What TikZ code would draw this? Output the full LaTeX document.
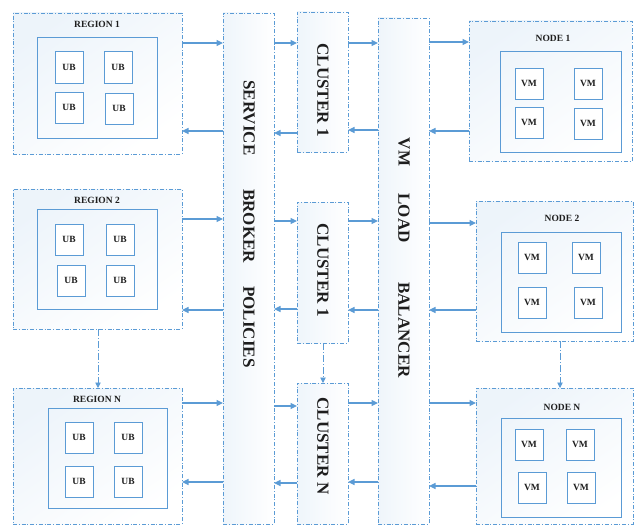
\documentclass[tikz,border=0pt]{standalone}
\usepackage{fontspec}
\setmainfont{Liberation Serif}
\usetikzlibrary{arrows.meta}
\definecolor{mybl}{RGB}{91,155,213}
\definecolor{txt}{RGB}{30,30,30}
\begin{document}
\begin{tikzpicture}[x=1pt,y=-1pt,
  outerbox/.style={draw=mybl, line width=0.9pt, dash pattern=on 4pt off 1.8pt on 1pt off 1.8pt,
     top color=mybl!11, bottom color=white, shading angle=35, anchor=north west, inner sep=0pt, outer sep=0pt},
  barbox/.style={draw=mybl, line width=0.9pt, dash pattern=on 4pt off 1.8pt on 1pt off 1.8pt,
     left color=mybl!10, right color=white, anchor=north west, inner sep=0pt, outer sep=0pt},
  innerbox/.style={draw=mybl, line width=1pt, anchor=north west, inner sep=0pt, outer sep=0pt},
  unit/.style={draw=mybl, line width=1pt, fill=white, anchor=north west, inner sep=0pt, outer sep=0pt,
     minimum width=28pt, minimum height=31pt, font=\fontsize{9.5}{10}\selectfont\bfseries, text=txt},
  ttl/.style={font=\fontsize{9.5}{10}\selectfont\bfseries, text=txt, inner sep=0pt},
  vtxt/.style={font=\fontsize{17}{18}\selectfont\bfseries, text=txt, rotate=-90, inner sep=0pt},
  arr/.style={draw=mybl, line width=1.2pt, -{Triangle[length=6.5pt,width=6pt]}},
  darr/.style={draw=mybl, line width=0.9pt, dash pattern=on 7pt off 2pt on 1pt off 2pt, -{Triangle[length=5.5pt,width=5.5pt]}}
]
\useasboundingbox (0,0) rectangle (634,527);

% bars
\node[barbox, minimum width=51pt, minimum height=511pt] (sb) at (223,13) {};
\node[barbox, minimum width=51pt, minimum height=506pt] (lb) at (378,18) {};
\node[vtxt] (sb1) at (249,118) {SERVICE};
\node[vtxt] (sb2) at (249,226) {BROKER};
\node[vtxt] (sb3) at (249,327) {POLICIES};
\node[vtxt] (lb1) at (404,152) {VM};
\node[vtxt] (lb2) at (404,218) {LOAD};
\node[vtxt] (lb3) at (404,330) {BALANCER};

% clusters
\node[barbox, minimum width=51pt, minimum height=140pt] (c1) at (297,12) {};
\node[barbox, minimum width=51pt, minimum height=141pt] (c2) at (297,202) {};
\node[barbox, minimum width=51pt, minimum height=141pt] (cn) at (297,383) {};
\node[vtxt] (c1t) at (323,90) {CLUSTER 1};
\node[vtxt] (c2t) at (323,270) {CLUSTER 1};
\node[vtxt] (cnt) at (323,446) {CLUSTER N};

% regions
\node[outerbox, minimum width=169pt, minimum height=141pt] (r1) at (13,13) {};
\node[outerbox, minimum width=169pt, minimum height=140pt] (r2) at (13,189) {};
\node[outerbox, minimum width=169pt, minimum height=136pt] (rn) at (13,388) {};
\node[innerbox, minimum width=120pt, minimum height=100pt] (r1i) at (37,38) {};
\node[innerbox, minimum width=120pt, minimum height=100pt] (r2i) at (37,209) {};
\node[innerbox, minimum width=119pt, minimum height=100pt] (rni) at (48,408) {};
\node[ttl] (r1t) at (97,24) {REGION 1};
\node[ttl] (r2t) at (97,200) {REGION 2};
\node[ttl] (rnt) at (97,399) {REGION N};

\node[unit] (u11) at (55,52) {UB};
\node[unit] (u12) at (104,52) {UB};
\node[unit] (u13) at (55,92) {UB};
\node[unit] (u14) at (105,93) {UB};
\node[unit] (u21) at (55,224) {UB};
\node[unit] (u22) at (106,224) {UB};
\node[unit] (u23) at (57,265) {UB};
\node[unit] (u24) at (106,265) {UB};
\node[unit] (u31) at (65,422) {UB};
\node[unit] (u32) at (114,422) {UB};
\node[unit] (u33) at (65,466) {UB};
\node[unit] (u34) at (114,466) {UB};

% nodes
\node[outerbox, minimum width=163pt, minimum height=140pt] (n1) at (469,21) {};
\node[outerbox, minimum width=157pt, minimum height=140pt] (n2) at (476,201) {};
\node[outerbox, minimum width=157pt, minimum height=136pt] (nn) at (476,388) {};
\node[innerbox, minimum width=121pt, minimum height=100pt] (n1i) at (500,52) {};
\node[innerbox, minimum width=120pt, minimum height=100pt] (n2i) at (501,232) {};
\node[innerbox, minimum width=120pt, minimum height=99pt] (nni) at (501,418) {};
\node[ttl] (n1t) at (553,38) {NODE 1};
\node[ttl] (n2t) at (562,218) {NODE 2};
\node[ttl] (nnt) at (562,407) {NODE N};

\node[unit] (v11) at (515,68) {VM};
\node[unit] (v12) at (574,68) {VM};
\node[unit] (v13) at (515,107) {VM};
\node[unit] (v14) at (574,108) {VM};
\node[unit] (v21) at (518,242) {VM};
\node[unit] (v22) at (572,242) {VM};
\node[unit] (v23) at (518,287) {VM};
\node[unit] (v24) at (574,287) {VM};
\node[unit] (v31) at (515,429) {VM};
\node[unit] (v32) at (566,429) {VM};
\node[unit] (v33) at (518,472) {VM};
\node[unit] (v34) at (567,472) {VM};

% arrows row 1
\draw[arr] (r1.east |- 0,43) -- (sb.west |- 0,43);
\draw[arr] (sb.west |- 0,131) -- (r1.east |- 0,131);
\draw[arr] (sb.east |- 0,43) -- (c1.west |- 0,43);
\draw[arr] (c1.west |- 0,133) -- (sb.east |- 0,133);
\draw[arr] (c1.east |- 0,43) -- (lb.west |- 0,43);
\draw[arr] (lb.west |- 0,130) -- (c1.east |- 0,130);
\draw[arr] (lb.east |- 0,42) -- (n1.west |- 0,42);
\draw[arr] (n1.west |- 0,131) -- (lb.east |- 0,131);
% row 2
\draw[arr] (r2.east |- 0,219) -- (sb.west |- 0,219);
\draw[arr] (sb.west |- 0,310) -- (r2.east |- 0,310);
\draw[arr] (sb.east |- 0,221) -- (c2.west |- 0,221);
\draw[arr] (c2.west |- 0,309) -- (sb.east |- 0,309);
\draw[arr] (c2.east |- 0,221) -- (lb.west |- 0,221);
\draw[arr] (lb.west |- 0,310) -- (c2.east |- 0,310);
\draw[arr] (lb.east |- 0,223) -- (n2.west |- 0,223);
\draw[arr] (n2.west |- 0,310) -- (lb.east |- 0,310);
% row N
\draw[arr] (rn.east |- 0,403) -- (sb.west |- 0,403);
\draw[arr] (sb.west |- 0,482) -- (rn.east |- 0,482);
\draw[arr] (sb.east |- 0,406) -- (cn.west |- 0,406);
\draw[arr] (cn.west |- 0,483) -- (sb.east |- 0,483);
\draw[arr] (cn.east |- 0,403) -- (lb.west |- 0,403);
\draw[arr] (lb.west |- 0,482) -- (cn.east |- 0,482);
\draw[arr] (lb.east |- 0,403) -- (nn.west |- 0,403);
\draw[arr] (nn.west |- 0,486) -- (lb.east |- 0,486);

% dashed vertical
\draw[darr] (r2.south -| 98,0) -- (rn.north -| 98,0);
\draw[darr] (c2.south -| 323,0) -- (cn.north -| 323,0);
\draw[darr] (n2.south -| 560,0) -- (nn.north -| 560,0);
\end{tikzpicture}
\end{document}
